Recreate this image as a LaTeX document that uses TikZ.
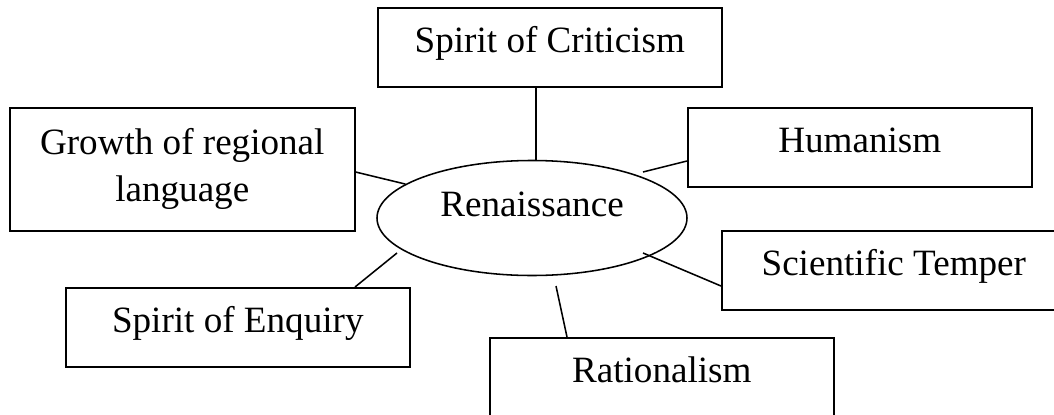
\documentclass[tikz,border=0pt]{standalone}
\usepackage{fontspec}
\setmainfont{Liberation Serif}
\usetikzlibrary{shapes.geometric}

\begin{document}
\begin{tikzpicture}[
    line width=1.1pt,
    every node/.style={font=\fontsize{26.4}{33.4}\selectfont},
    box/.style={draw, inner sep=0pt, minimum width=8.6cm, text height=1.125cm, text depth=0.85cm, anchor=north west},
    ]
    \useasboundingbox (0,0) rectangle (26.35,10.35);
    \node [draw, ellipse, inner sep=0pt, minimum width=7.75cm, minimum height=2.875cm, text height=0.7cm, text depth=0.8cm] (ren) at (13.3,4.9) {Renaissance};
    \node [box] (crit) at (9.425,10.175) {Spirit of Criticism};
    \node [draw, align=center, inner sep=0pt, minimum width=8.625cm, minimum height=3.075cm, anchor=north west] (grow) at (0.225,7.675) {Growth of regional\\language};
    \node [box] (hum) at (17.175,7.675) {Humanism};
    \node [box] (sci) at (18.025,4.6) {Scientific Temper};
    \node [box] (enq) at (1.625,3.175) {Spirit of Enquiry};
    \node [box] (rat) at (12.225,1.925) {Rationalism};
    \draw ([xshift=0.1cm]ren.north) -- ([xshift=0.1cm]ren.north |- crit.south);
    \coordinate (humend) at (16.075,6.05);
    \draw (humend) -- ([yshift=-1.35cm]hum.north west);
    \draw ([yshift=-1.625cm]grow.north east) -- (ren.165);
    \coordinate (sciend) at (16.075,4.025);
    \draw (sciend) -- ([yshift=-1.4cm]sci.north west);
    \coordinate (enqend) at (9.925,4.025);
    \draw (enqend) -- ([xshift=7.25cm]enq.north west);
    \coordinate (ratend) at (13.9,3.2);
    \draw (ratend) -- ([xshift=1.95cm]rat.north west);
\end{tikzpicture}
\end{document}
